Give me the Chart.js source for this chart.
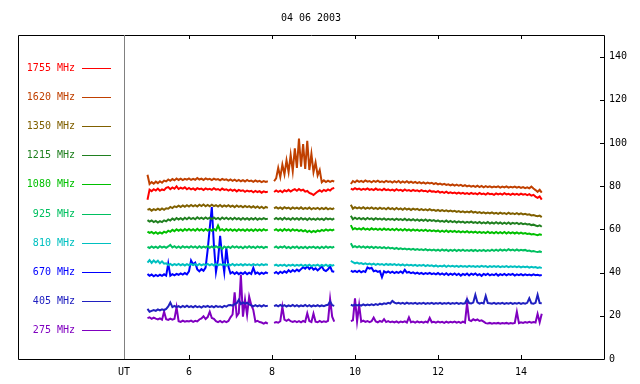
<!DOCTYPE html>
<html>
<head>
<meta charset="utf-8">
<script src="https://cdn.jsdelivr.net/npm/chart.js@4"></script>
<style>
  html, body { margin: 0; padding: 0; background: #fff; }
</style>
</head>
<body>
<canvas id="chart" width="640" height="384"></canvas>
<script>
// title, legend text and colours
const titleText = '04 06 2003';
const freqLabels = ['1755 MHz', '1620 MHz', '1350 MHz', '1215 MHz', '1080 MHz',
                    '925 MHz', '810 MHz', '670 MHz', '405 MHz', '275 MHz'];
const lineColors = ['#ff0000', '#c04000', '#806000', '#208020', '#00c000',
                    '#00c060', '#00c0c0', '#0000ff', '#2020c0', '#8000c0'];

// axes
const xAxisLabel = 'UT';
const xTicks = [6, 8, 10, 12, 14];
const yTicks = [0, 20, 40, 60, 80, 100, 120, 140];
const xMin = 4.434, xMax = 16;
const yMin = 0, yMax = 150;

// time grid (UT hours) for the three recorded pieces
const hoursSeg1 = [5, 5.05, 5.1, 5.15, 5.2, 5.25, 5.3, 5.35, 5.4, 5.45,
  5.5, 5.55, 5.6, 5.65, 5.7, 5.75, 5.8, 5.85, 5.9, 5.95,
  6, 6.05, 6.1, 6.15, 6.2, 6.25, 6.3, 6.35, 6.4, 6.45,
  6.5, 6.55, 6.6, 6.65, 6.7, 6.75, 6.8, 6.85, 6.9, 6.95,
  7, 7.05, 7.1, 7.15, 7.2, 7.25, 7.3, 7.35, 7.4, 7.45,
  7.5, 7.55, 7.6, 7.65, 7.7, 7.75, 7.8, 7.85, 7.9];
const hoursSeg2 = [8.05, 8.1, 8.15, 8.2, 8.25, 8.3, 8.35, 8.4, 8.45, 8.5,
  8.55, 8.6, 8.65, 8.7, 8.75, 8.8, 8.85, 8.9, 8.95, 9,
  9.05, 9.1, 9.15, 9.2, 9.25, 9.3, 9.35, 9.4, 9.45, 9.5];
const hoursSeg3 = [9.9, 9.95, 10, 10.05, 10.1, 10.15, 10.2, 10.25, 10.3, 10.35,
  10.4, 10.45, 10.5, 10.55, 10.6, 10.65, 10.7, 10.75, 10.8, 10.85,
  10.9, 10.95, 11, 11.05, 11.1, 11.15, 11.2, 11.25, 11.3, 11.35,
  11.4, 11.45, 11.5, 11.55, 11.6, 11.65, 11.7, 11.75, 11.8, 11.85,
  11.9, 11.95, 12, 12.05, 12.1, 12.15, 12.2, 12.25, 12.3, 12.35,
  12.4, 12.45, 12.5, 12.55, 12.6, 12.65, 12.7, 12.75, 12.8, 12.85,
  12.9, 12.95, 13, 13.05, 13.1, 13.15, 13.2, 13.25, 13.3, 13.35,
  13.4, 13.45, 13.5, 13.55, 13.6, 13.65, 13.7, 13.75, 13.8, 13.85,
  13.9, 13.95, 14, 14.05, 14.1, 14.15, 14.2, 14.25, 14.3, 14.35,
  14.4, 14.45, 14.5];

// flux values, one array per piece
const f1755 = [
  [73.7, 78.4, 77.7, 78.6, 78.0, 78.9, 77.9, 78.5, 78.2, 79.2,
   79.6, 78.6, 79.4, 78.8, 79.9, 78.7, 79.3, 78.9, 79.5, 78.6,
   79.2, 78.5, 79.0, 78.3, 79.1, 78.6, 78.9, 78.2, 79.0, 78.5,
   78.8, 78.3, 79.1, 78.4, 78.7, 78.1, 78.9, 78.3, 78.6, 78.0,
   78.5, 77.9, 78.4, 77.6, 78.3, 77.8, 78.1, 77.4, 78.0, 77.6,
   77.9, 77.2, 77.8, 77.3, 77.7, 77.0, 77.6, 77.2, 77.5],
  [77.3, 78.0, 77.4, 77.9, 77.2, 78.1, 77.6, 78.3, 77.5, 78.2,
   78.6, 77.9, 78.7, 78.0, 78.4, 77.5, 77.8, 76.9, 76.5, 75.9,
   76.7, 77.5, 78.1, 77.4, 78.3, 77.8, 78.5, 78.0, 78.9, 79.2],
  [78.9, 78.4, 79.1, 78.5, 78.9, 78.3, 78.8, 78.4, 79.0, 78.3,
   78.7, 78.2, 78.9, 78.3, 78.6, 78.1, 78.8, 78.2, 78.5, 78.0,
   78.4, 77.9, 78.6, 78.0, 78.3, 77.8, 78.5, 77.9, 78.2, 77.7,
   78.3, 77.8, 78.1, 77.6, 78.2, 77.7, 77.9, 77.4, 78.0, 77.5,
   77.6, 77.2, 77.7, 77.0, 77.4, 76.9, 77.5, 76.8, 77.2, 76.8,
   77.1, 76.6, 77.0, 76.5, 76.9, 76.4, 76.8, 76.3, 76.9, 76.4,
   76.7, 76.2, 76.9, 76.3, 76.6, 76.1, 76.8, 76.3, 76.5, 76.0,
   76.7, 76.2, 76.6, 76.1, 76.8, 76.2, 76.5, 76.0, 76.6, 76.1,
   76.5, 76.0, 76.6, 76.1, 76.4, 75.9, 76.3, 75.6, 76.0, 75.2,
   74.6, 75.3, 73.8]
];
const f1620 = [
  [85.3, 81.0, 81.9, 81.2, 82.1, 81.4, 82.3, 81.6, 82.6, 82.2,
   83.1, 82.5, 83.3, 82.7, 83.6, 82.9, 83.5, 82.8, 83.4, 83.0,
   83.6, 82.9, 83.4, 83.0, 83.8, 83.1, 83.5, 82.9, 83.6, 83.1,
   83.4, 82.8, 83.5, 83.0, 83.3, 82.7, 83.4, 82.9, 83.2, 82.6,
   83.1, 82.5, 83.0, 82.4, 82.9, 82.3, 82.8, 82.2, 82.9, 82.3,
   82.6, 82.0, 82.7, 82.1, 82.5, 81.9, 82.4, 82.0, 82.3],
  [82.3, 83.6, 88.5, 84.2, 90.0, 85.5, 92.0, 86.5, 94.5, 87.0,
   97.5, 88.5, 102.0, 89.0, 99.5, 88.0, 101.0, 87.5, 95.0, 86.5,
   91.0, 85.0, 87.5, 81.8, 82.7, 81.9, 82.6, 82.0, 82.5, 82.2],
  [81.0, 82.4, 81.8, 82.6, 82.0, 82.5, 81.9, 82.7, 82.1, 82.4,
   81.8, 82.5, 82.0, 82.6, 81.9, 82.3, 81.8, 82.5, 82.0, 82.3,
   81.7, 82.3, 81.8, 82.4, 81.6, 82.2, 81.7, 82.3, 81.6, 82.1,
   81.5, 82.0, 81.4, 81.9, 81.3, 81.8, 81.2, 81.7, 81.3, 81.6,
   81.0, 81.4, 80.8, 81.2, 80.7, 81.1, 80.6, 80.9, 80.4, 80.8,
   80.3, 80.7, 80.2, 80.6, 80.0, 80.5, 79.9, 80.3, 79.8, 80.2,
   79.7, 80.2, 79.6, 80.1, 79.5, 80.0, 79.6, 79.9, 79.4, 79.8,
   79.5, 79.9, 79.3, 79.8, 79.4, 79.9, 79.3, 79.7, 79.4, 79.8,
   79.3, 79.7, 79.2, 79.6, 79.1, 79.5, 79.0, 79.8, 78.9, 78.2,
   77.4, 78.3, 77.0]
];
const f1350 = [
  [69.0, 69.5, 68.7, 69.4, 68.9, 69.6, 69.0, 69.7, 69.1, 69.8,
   69.6, 70.4, 69.9, 70.7, 70.3, 71.0, 70.4, 71.1, 70.5, 71.2,
   70.6, 71.3, 70.7, 71.2, 70.6, 71.4, 70.8, 71.5, 70.7, 71.3,
   70.7, 71.4, 70.8, 71.2, 70.6, 71.3, 70.5, 71.1, 70.6, 71.2,
   70.5, 71.0, 70.3, 71.1, 70.4, 70.9, 70.2, 70.9, 70.3, 70.8,
   70.1, 70.7, 70.0, 70.6, 69.9, 70.5, 69.8, 70.4, 70.0],
  [69.7, 70.3, 69.6, 70.2, 69.5, 70.3, 69.7, 70.1, 69.4, 70.2,
   69.6, 70.1, 69.5, 70.2, 69.4, 70.0, 69.5, 70.1, 69.3, 69.9,
   69.5, 70.0, 69.3, 69.9, 69.4, 70.0, 69.3, 69.8, 69.4, 69.9],
  [71.4, 69.6, 70.3, 69.7, 70.2, 69.6, 70.3, 69.5, 70.1, 69.6,
   70.2, 69.5, 70.0, 69.4, 70.1, 69.5, 69.9, 69.3, 70.0, 69.4,
   69.8, 69.2, 69.9, 69.3, 69.7, 69.1, 69.8, 69.2, 69.6, 69.0,
   69.6, 69.1, 69.5, 68.9, 69.4, 68.9, 69.3, 68.8, 69.4, 68.8,
   69.1, 68.6, 69.0, 68.5, 68.9, 68.4, 68.8, 68.3, 68.7, 68.3,
   68.6, 68.1, 68.5, 68.0, 68.4, 67.9, 68.3, 67.9, 68.4, 67.8,
   68.1, 67.6, 68.0, 67.5, 67.9, 67.4, 67.8, 67.4, 67.9, 67.3,
   67.7, 67.2, 67.8, 67.3, 67.6, 67.1, 67.7, 67.2, 67.5, 67.1,
   67.5, 67.0, 67.4, 66.9, 67.2, 66.8, 67.0, 66.5, 66.7, 66.3,
   66.1, 66.4, 65.7]
];
const f1215 = [
  [64.3, 63.6, 64.1, 63.4, 63.9, 63.2, 63.8, 63.4, 64.2, 63.7,
   64.6, 64.1, 65.0, 64.4, 65.3, 64.6, 65.2, 64.5, 65.4, 64.7,
   65.5, 64.8, 65.3, 64.7, 65.6, 64.9, 65.4, 64.8, 65.5, 64.9,
   65.4, 64.7, 65.5, 64.8, 65.3, 64.6, 65.5, 64.8, 65.4, 64.7,
   65.3, 64.6, 65.4, 64.7, 65.2, 64.5, 65.3, 64.6, 65.2, 64.5,
   65.2, 64.6, 65.3, 64.5, 65.1, 64.6, 65.2, 64.7, 65.0],
  [64.6, 65.3, 64.7, 65.2, 64.5, 65.4, 64.7, 65.1, 64.5, 65.3,
   64.6, 65.2, 64.5, 65.3, 64.6, 65.1, 64.4, 65.2, 64.5, 65.0,
   64.4, 65.1, 64.5, 65.0, 64.4, 65.2, 64.6, 65.0, 64.5, 65.1],
  [66.3, 64.7, 65.4, 64.8, 65.3, 64.7, 65.2, 64.6, 65.3, 64.7,
   65.1, 64.5, 65.2, 64.6, 65.0, 64.5, 65.1, 64.4, 64.9, 64.5,
   64.9, 64.3, 65.0, 64.4, 64.8, 64.3, 64.9, 64.2, 64.7, 64.2,
   64.7, 64.1, 64.6, 64.0, 64.5, 64.0, 64.6, 63.9, 64.4, 63.9,
   64.3, 63.7, 64.2, 63.6, 64.0, 63.5, 64.1, 63.4, 63.9, 63.4,
   63.8, 63.2, 63.7, 63.2, 63.6, 63.0, 63.5, 63.1, 63.6, 63.0,
   63.4, 62.9, 63.5, 62.8, 63.3, 62.8, 63.4, 62.7, 63.2, 62.7,
   63.3, 62.7, 63.2, 62.6, 63.1, 62.6, 63.2, 62.5, 63.0, 62.6,
   63.0, 62.4, 62.9, 62.4, 62.7, 62.3, 62.5, 62.0, 62.2, 61.8,
   61.5, 61.9, 61.2]
];
const f1080 = [
  [59.0, 58.4, 58.8, 58.1, 58.7, 58.0, 58.6, 58.1, 58.9, 58.5,
   59.4, 58.9, 59.8, 59.2, 60.1, 59.4, 60.0, 59.3, 60.2, 59.5,
   60.2, 59.5, 60.1, 59.4, 60.3, 59.5, 60.1, 59.4, 60.2, 59.5,
   60.1, 59.4, 60.2, 59.5, 61.8, 59.6, 60.1, 59.4, 60.2, 59.5,
   60.1, 59.4, 60.0, 59.3, 60.1, 59.5, 60.0, 59.3, 60.1, 59.4,
   60.0, 59.3, 60.1, 59.4, 60.0, 59.4, 60.1, 59.5, 59.9],
  [59.5, 60.1, 59.4, 60.0, 59.3, 60.2, 59.5, 60.0, 59.3, 60.1,
   59.4, 59.9, 59.2, 59.8, 59.1, 59.6, 58.8, 59.4, 58.7, 59.3,
   58.8, 59.5, 59.1, 59.8, 59.3, 60.0, 59.4, 59.9, 59.5, 60.0],
  [62.0, 60.0, 60.6, 60.0, 60.5, 59.9, 60.6, 59.9, 60.4, 59.8,
   60.5, 59.9, 60.4, 59.8, 60.3, 59.7, 60.4, 59.8, 60.2, 59.7,
   60.2, 59.6, 60.3, 59.6, 60.1, 59.5, 60.2, 59.5, 60.0, 59.4,
   60.0, 59.4, 59.9, 59.3, 59.8, 59.3, 59.9, 59.2, 59.7, 59.2,
   59.6, 59.1, 59.5, 58.9, 59.4, 58.9, 59.5, 58.8, 59.3, 58.8,
   59.3, 58.7, 59.2, 58.6, 59.1, 58.6, 59.2, 58.5, 59.0, 58.5,
   59.0, 58.4, 58.9, 58.4, 58.8, 58.3, 58.9, 58.3, 58.7, 58.2,
   58.8, 58.2, 58.7, 58.2, 58.8, 58.1, 58.7, 58.2, 58.6, 58.1,
   58.6, 58.0, 58.5, 58.0, 58.3, 57.9, 58.1, 57.7, 57.9, 57.6,
   57.3, 57.7, 57.4]
];
const f925 = [
  [51.9, 51.4, 52.1, 51.5, 52.0, 51.4, 52.2, 51.6, 52.0, 51.5,
   52.1, 52.8, 51.6, 52.2, 51.5, 52.1, 51.4, 52.2, 51.6, 52.0,
   51.5, 52.2, 51.6, 52.1, 51.4, 52.2, 51.5, 52.0, 51.6, 52.3,
   51.5, 52.1, 51.4, 52.2, 51.6, 52.0, 50.9, 52.1, 51.5, 52.0,
   51.4, 52.2, 51.6, 52.1, 51.5, 52.0, 51.3, 52.1, 51.5, 52.2,
   51.5, 52.0, 51.4, 52.1, 51.6, 52.0, 51.4, 51.9, 51.6],
  [51.5, 52.1, 51.4, 52.0, 51.6, 52.2, 51.4, 51.9, 51.3, 52.0,
   51.5, 52.1, 51.3, 51.9, 51.4, 52.0, 51.3, 51.9, 51.5, 52.0,
   51.4, 51.9, 51.3, 52.0, 51.4, 52.1, 51.5, 51.9, 51.5, 52.0],
  [53.6, 51.8, 52.3, 51.7, 52.2, 51.6, 52.1, 51.5, 52.0, 51.5,
   52.0, 51.4, 51.9, 51.4, 51.8, 51.3, 51.8, 51.2, 51.7, 51.2,
   51.5, 51.0, 51.4, 50.9, 51.2, 50.8, 51.1, 50.7, 51.0, 50.6,
   51.0, 50.5, 50.9, 50.5, 50.8, 50.4, 50.9, 50.3, 50.7, 50.3,
   50.7, 50.2, 50.6, 50.1, 50.7, 50.2, 50.6, 50.0, 50.5, 50.1,
   50.6, 50.0, 50.5, 50.1, 50.6, 50.0, 50.4, 50.0, 50.5, 50.0,
   50.5, 49.9, 50.4, 50.0, 50.5, 49.9, 50.4, 50.0, 50.6, 50.1,
   50.6, 50.1, 50.7, 50.2, 50.6, 50.2, 50.8, 50.3, 50.7, 50.2,
   50.7, 50.2, 50.6, 50.3, 50.5, 50.0, 50.2, 49.8, 50.0, 49.7,
   49.5, 49.8, 49.4]
];
const f810 = [
  [44.6, 45.8, 44.5, 45.6, 44.7, 45.5, 44.3, 45.2, 44.1, 44.3,
   43.5, 44.0, 43.4, 43.9, 43.5, 44.0, 43.4, 43.9, 43.3, 43.9,
   43.4, 44.0, 43.5, 43.9, 43.3, 44.0, 43.4, 43.8, 43.5, 44.0,
   43.4, 43.9, 43.3, 44.0, 43.4, 43.8, 43.5, 43.9, 43.3, 43.9,
   43.4, 44.0, 43.3, 43.8, 43.4, 43.9, 43.3, 43.9, 43.4, 43.8,
   43.3, 43.9, 43.4, 43.8, 43.3, 43.9, 43.4, 43.8, 43.5],
  [43.2, 43.7, 43.1, 43.6, 43.2, 43.7, 43.0, 43.6, 43.2, 43.7,
   43.1, 43.6, 43.2, 43.7, 43.0, 43.6, 43.1, 43.7, 43.0, 43.5,
   43.2, 43.7, 43.0, 43.6, 43.1, 43.7, 43.0, 43.6, 43.2, 43.6],
  [45.4, 44.8, 44.3, 44.6, 44.1, 44.4, 43.9, 44.3, 43.8, 44.2,
   43.7, 44.2, 43.6, 44.1, 43.7, 44.0, 43.5, 44.0, 43.6, 43.9,
   43.5, 43.9, 43.4, 43.8, 43.3, 43.8, 43.2, 43.7, 43.3, 43.6,
   43.2, 43.6, 43.1, 43.5, 43.2, 43.6, 43.0, 43.5, 43.1, 43.4,
   42.9, 43.3, 42.8, 43.2, 42.9, 43.3, 42.7, 43.2, 42.8, 43.1,
   42.7, 43.1, 42.6, 43.1, 42.7, 43.0, 42.6, 43.1, 42.7, 43.0,
   42.6, 43.0, 42.6, 43.1, 42.7, 43.0, 42.5, 43.0, 42.6, 43.0,
   42.6, 43.0, 42.5, 42.9, 42.6, 43.0, 42.5, 42.9, 42.6, 42.9,
   42.5, 42.9, 42.4, 42.8, 42.5, 42.8, 42.3, 42.7, 42.4, 42.6,
   42.2, 42.5, 42.1]
];
const f670 = [
  [39.4, 38.5, 39.1, 38.3, 38.9, 38.4, 39.0, 38.5, 39.2, 38.6,
   44.2, 38.6, 39.3, 38.7, 39.4, 39.0, 39.6, 39.1, 39.8, 39.2,
   40.6, 45.6, 43.8, 44.6, 41.5, 40.6, 41.6, 40.8, 42.3, 50.5,
   60.6, 70.3, 52.8, 40.3, 46.0, 57.0, 47.2, 40.2, 51.3, 42.8,
   39.6, 40.3, 39.4, 40.1, 39.3, 40.0, 39.4, 40.2, 39.3, 40.0,
   39.4, 42.2, 39.5, 40.1, 39.3, 40.0, 39.4, 40.1, 39.6],
  [39.6, 40.3, 39.5, 40.4, 39.8, 40.6, 40.0, 41.1, 40.3, 41.2,
   40.5, 41.4, 40.7, 41.6, 42.5, 41.8, 42.9, 41.7, 42.6, 41.4,
   42.0, 41.0, 41.9, 42.9, 41.2, 40.7, 41.5, 42.9, 40.6, 40.4],
  [40.9, 40.3, 40.8, 40.2, 40.9, 40.1, 40.7, 40.3, 42.4, 41.8,
   42.2, 40.6, 40.9, 40.3, 40.7, 37.9, 40.6, 40.0, 40.5, 39.9,
   40.4, 39.8, 40.3, 39.9, 40.5, 39.8, 41.3, 40.0, 40.3, 39.7,
   40.1, 39.5, 40.0, 39.4, 39.9, 39.3, 39.8, 39.4, 39.9, 39.3,
   39.7, 39.2, 39.8, 39.1, 39.6, 39.0, 39.7, 38.9, 39.5, 39.0,
   39.6, 38.9, 39.5, 38.6, 39.4, 38.9, 39.6, 38.7, 39.5, 39.0,
   39.6, 38.8, 39.3, 38.5, 39.4, 38.9, 39.5, 38.7, 39.2, 38.8,
   39.5, 38.6, 39.3, 38.8, 39.4, 38.7, 39.3, 38.9, 39.4, 38.6,
   39.2, 38.8, 39.3, 38.7, 39.2, 38.8, 39.1, 38.7, 39.2, 38.8,
   39.0, 38.7, 38.9]
];
const f405 = [
  [23.2, 21.9, 22.3, 22.7, 22.3, 23.0, 22.5, 23.0, 22.6, 23.2,
   24.3, 26.1, 24.0, 24.6, 24.0, 24.5, 23.9, 24.6, 24.0, 24.7,
   24.0, 24.5, 23.9, 24.6, 24.0, 24.4, 23.8, 24.5, 24.1, 24.6,
   24.0, 24.5, 23.9, 24.6, 24.1, 24.4, 23.9, 24.6, 24.2, 24.9,
   25.0, 24.7, 25.4, 25.8, 27.4, 25.5, 26.2, 25.6, 26.1, 25.3,
   24.8, 24.4, 24.9, 24.4, 24.8, 24.3, 24.9, 24.4, 24.7],
  [24.5, 24.9, 24.4, 25.0, 24.5, 24.9, 24.3, 24.8, 24.5, 25.0,
   24.4, 24.9, 24.3, 24.8, 24.5, 25.0, 24.4, 24.9, 24.3, 24.8,
   24.5, 24.9, 24.4, 24.8, 24.5, 24.9, 25.1, 26.6, 24.9, 24.6],
  [25.1, 24.7, 25.2, 24.8, 25.1, 24.7, 25.3, 24.8, 25.2, 24.9,
   25.3, 24.9, 25.4, 25.0, 25.6, 25.3, 25.8, 25.5, 26.0, 25.7,
   26.9, 26.1, 25.7, 26.0, 25.6, 26.0, 25.5, 26.1, 25.6, 25.9,
   25.6, 26.0, 25.5, 25.9, 25.6, 26.0, 25.5, 25.9, 25.6, 26.0,
   25.5, 25.9, 25.6, 26.0, 25.5, 25.9, 25.6, 26.0, 25.5, 25.9,
   25.6, 26.0, 25.5, 25.9, 25.6, 25.8, 27.7, 25.9, 25.7, 26.1,
   29.7, 26.2, 25.6, 26.0, 25.7, 29.2, 25.9, 25.8, 25.6, 26.0,
   25.5, 25.9, 25.6, 26.0, 25.5, 25.9, 25.6, 26.0, 25.5, 25.9,
   25.6, 26.0, 25.5, 25.9, 25.6, 26.0, 28.1, 25.8, 25.6, 26.0,
   29.7, 25.9, 25.8]
];
const f275 = [
  [18.9, 19.3, 18.6, 19.2, 18.7, 18.3, 18.8, 18.2, 21.9, 18.4,
   18.1, 18.7, 18.2, 18.6, 24.0, 17.5, 17.2, 17.8, 17.3, 17.6,
   17.4, 17.8, 17.2, 17.7, 17.4, 18.3, 18.8, 19.8, 18.5, 19.4,
   21.9, 19.0, 18.6, 17.5, 17.1, 17.6, 17.0, 17.5, 17.1, 17.6,
   19.3, 20.6, 30.9, 19.8, 21.2, 39.0, 19.6, 27.4, 20.4, 28.9,
   25.0, 22.7, 17.3, 17.7, 17.1, 16.9, 16.4, 16.9, 16.4],
  [16.7, 17.1, 16.8, 17.5, 24.2, 18.2, 17.7, 18.3, 17.5, 17.2,
   17.6, 17.1, 17.5, 17.0, 17.6, 17.2, 21.2, 17.6, 17.1, 21.0,
   17.3, 17.0, 17.6, 17.1, 17.5, 17.2, 17.7, 27.7, 19.6, 17.3],
  [17.6, 17.9, 28.1, 17.4, 25.0, 17.3, 17.8, 17.2, 17.6, 17.1,
   17.5, 19.2, 17.4, 17.0, 17.6, 17.2, 18.4, 17.1, 17.5, 17.0,
   17.3, 16.9, 17.4, 16.8, 17.3, 17.0, 17.4, 16.9, 19.3, 17.0,
   17.3, 16.8, 17.4, 16.9, 17.2, 16.8, 17.3, 16.9, 19.0, 17.0,
   17.2, 16.8, 17.3, 16.9, 17.2, 16.7, 17.3, 16.8, 17.2, 16.9,
   17.3, 16.8, 17.2, 16.7, 17.3, 16.8, 25.8, 18.0, 17.6, 18.4,
   17.9, 18.3, 17.6, 17.9, 17.3, 16.6, 16.4, 16.7, 16.3, 16.6,
   16.4, 16.7, 16.3, 16.6, 16.4, 16.7, 16.3, 16.6, 16.4, 16.7,
   21.9, 16.6, 17.0, 16.7, 17.1, 16.8, 17.2, 16.8, 17.1, 16.9,
   20.9, 17.0, 20.9]
];

const seriesValues = [f1755, f1620, f1350, f1215, f1080, f925, f810, f670, f405, f275];
const segHours = [hoursSeg1, hoursSeg2, hoursSeg3];
const monoFont = '"DejaVu Sans Mono", "Liberation Mono", monospace';

// join the pieces, with a null point so the line breaks in the gaps
function toPoints(segs) {
  const pts = [];
  segs.forEach((vals, s) => {
    const hrs = segHours[s];
    if (s > 0) {
      const prev = segHours[s - 1];
      pts.push({ x: (prev[prev.length - 1] + hrs[0]) / 2, y: null });
    }
    vals.forEach((v, i) => pts.push({ x: hrs[i], y: v }));
  });
  return pts;
}

// frame, inward tick marks, title and the left-hand key
const decorPlugin = {
  id: 'decor',
  afterDraw(chart) {
    const ctx = chart.ctx;
    const a = chart.chartArea;
    const xs = chart.scales.x, ys = chart.scales.y;
    const frameLeft = 18;
    ctx.save();

    ctx.strokeStyle = '#000';
    ctx.lineWidth = 1;
    ctx.beginPath();
    ctx.rect(frameLeft + 0.5, Math.round(a.top) + 0.5,
             Math.round(a.right) - frameLeft, Math.round(a.bottom) - Math.round(a.top));
    ctx.stroke();

    ctx.strokeStyle = '#808080';
    ctx.beginPath();
    ctx.moveTo(Math.round(a.left) + 0.5, a.top);
    ctx.lineTo(Math.round(a.left) + 0.5, a.bottom);
    ctx.stroke();

    ctx.strokeStyle = '#000';
    ctx.beginPath();
    xTicks.forEach(v => {
      const px = Math.round(xs.getPixelForValue(v)) + 0.5;
      ctx.moveTo(px, a.top); ctx.lineTo(px, a.top + 4);
      ctx.moveTo(px, a.bottom); ctx.lineTo(px, a.bottom - 4);
    });
    yTicks.forEach(v => {
      const py = Math.round(ys.getPixelForValue(v)) + 0.5;
      ctx.moveTo(a.right - 4, py); ctx.lineTo(a.right, py);
    });
    ctx.stroke();

    ctx.font = '10px ' + monoFont;
    ctx.fillStyle = '#000';
    ctx.textAlign = 'center';
    ctx.textBaseline = 'middle';
    ctx.fillText(titleText, (frameLeft + a.right) / 2, 18);

    ctx.textAlign = 'right';
    freqLabels.forEach((lab, i) => {
      const y = 67.5 + i * 29.2;
      ctx.fillStyle = lineColors[i];
      ctx.fillText(lab, 75, y + 0.5);
      ctx.strokeStyle = lineColors[i];
      ctx.beginPath();
      ctx.moveTo(82, Math.round(y) + 0.5);
      ctx.lineTo(111, Math.round(y) + 0.5);
      ctx.stroke();
    });
    ctx.restore();
  }
};

new Chart(document.getElementById('chart'), {
  type: 'line',
  data: {
    datasets: seriesValues.map((segs, i) => ({
      label: freqLabels[i],
      data: toPoints(segs),
      borderColor: lineColors[i],
      borderWidth: 2,
      pointRadius: 0,
      tension: 0,
      spanGaps: false,
      fill: false
    }))
  },
  options: {
    responsive: false,
    devicePixelRatio: 1,
    animation: false,
    layout: { padding: { left: 124, top: 35, right: 0, bottom: 0 } },
    plugins: {
      legend: { display: false },
      title: { display: false },
      tooltip: { enabled: false }
    },
    scales: {
      x: {
        type: 'linear',
        min: xMin,
        max: xMax,
        afterBuildTicks: s => { s.ticks = [xMin].concat(xTicks).map(v => ({ value: v })); },
        afterFit: s => { s.height = 25; },
        grid: { display: false, drawTicks: false },
        border: { display: false },
        ticks: {
          autoSkip: false,
          maxRotation: 0,
          padding: 7,
          color: '#000',
          font: { family: monoFont, size: 10 },
          callback: v => (v === xMin ? xAxisLabel : String(v))
        }
      },
      y: {
        position: 'right',
        min: yMin,
        max: yMax,
        afterBuildTicks: s => { s.ticks = yTicks.map(v => ({ value: v })); },
        afterFit: s => { s.width = 36; },
        grid: { display: false, drawTicks: false },
        border: { display: false },
        ticks: {
          padding: 5,
          color: '#000',
          font: { family: monoFont, size: 10 }
        }
      }
    }
  },
  plugins: [decorPlugin]
});
</script>
</body>
</html>
